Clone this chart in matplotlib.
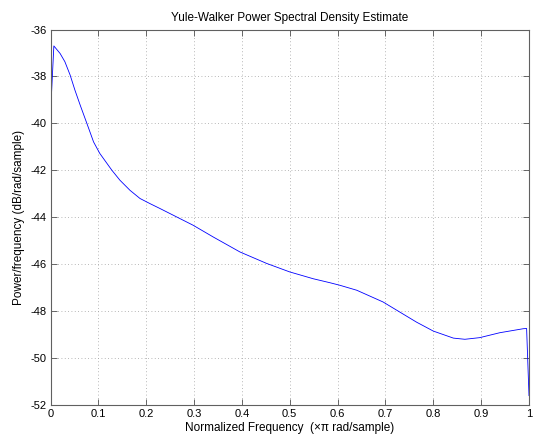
import matplotlib
matplotlib.use("Agg")
import matplotlib.pyplot as plt

plt.rcParams['font.family'] = ['Liberation Sans', 'DejaVu Sans']
plt.rcParams['axes.unicode_minus'] = False

freq = [0, 0.007, 0.02, 0.030, 0.041, 0.051, 0.062, 0.076, 0.090, 0.103,
        0.128, 0.145, 0.166, 0.187, 0.208, 0.229, 0.264, 0.298, 0.340, 0.396,
        0.452, 0.500, 0.549, 0.584, 0.605, 0.640, 0.695, 0.730, 0.765, 0.800,
        0.842, 0.866, 0.897, 0.939, 0.988, 0.995, 1.0]
psd_db = [-39.6, -36.70, -37.02, -37.37, -37.94, -38.58, -39.22, -40.0, -40.79,
          -41.28, -41.99, -42.42, -42.85, -43.2, -43.42, -43.63, -43.99, -44.34,
          -44.84, -45.48, -45.97, -46.33, -46.62, -46.79, -46.90, -47.11,
          -47.61, -48.04, -48.47, -48.85, -49.15, -49.2, -49.13, -48.92,
          -48.75, -48.74, -51.6]
xticks = [0, 0.1, 0.2, 0.3, 0.4, 0.5, 0.6, 0.7, 0.8, 0.9, 1]
xtick_labels = ['0', '0.1', '0.2', '0.3', '0.4', '0.5', '0.6', '0.7', '0.8', '0.9', '1']
yticks = [-52, -50, -48, -46, -44, -42, -40, -38, -36]

fig = plt.figure(figsize=(5.36, 4.36), dpi=100, facecolor='white')
ax = fig.add_axes([50.5 / 536, (436 - 405) / 436, (529 - 50.5) / 536, (405 - 29.5) / 436])
ax.plot(freq, psd_db, color='#0000ff', linewidth=0.6)
ax.set_xlim(0, 1)
ax.set_ylim(-52, -36)
ax.set_xticks(xticks)
ax.set_xticklabels(xtick_labels)
ax.set_yticks(yticks)
ax.grid(True, linestyle=(0, (1, 3)), color='#a0a0a0', linewidth=0.6)
ax.tick_params(direction='in', top=True, right=True, labelsize=8, length=4,
               width=0.6, color='#505050', pad=3)
for s in ax.spines.values():
    s.set_color('#606060')
    s.set_linewidth(0.8)
ax.set_title('Yule-Walker Power Spectral Density Estimate', fontsize=8.5, pad=6)
ax.set_xlabel('Normalized Frequency  (\u00d7\u03c0 rad/sample)', fontsize=8.5, labelpad=2)
ax.set_ylabel('Power/frequency (dB/rad/sample)', fontsize=8.5, labelpad=4)
fig.savefig('out.png', dpi=100, facecolor='white')
